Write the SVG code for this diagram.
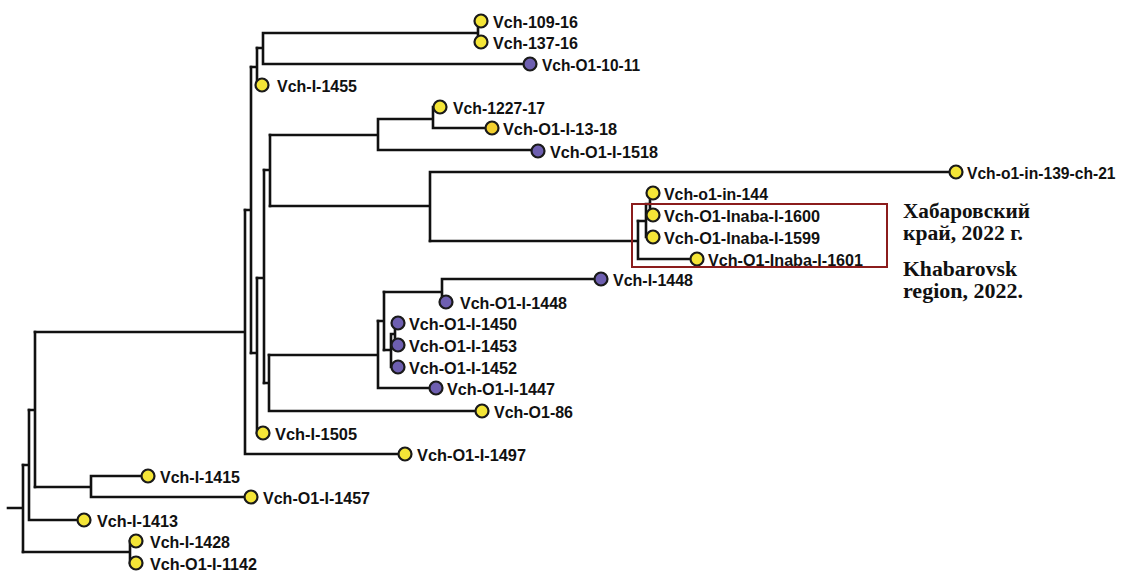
<svg xmlns="http://www.w3.org/2000/svg" width="1123" height="573" viewBox="0 0 1123 573">
<style>
.e{fill:none;stroke:#111;stroke-width:2.6;stroke-linecap:square}
.y{fill:#f4e537;stroke:#1a1a1a;stroke-width:2.2}
.p{fill:#6e5fb0;stroke:#1a1a1a;stroke-width:2.2}
.t{font-family:"Liberation Sans",Arial,sans-serif;font-weight:bold;font-size:17px;fill:#111}
.a{font-family:"Liberation Serif","Times New Roman",serif;font-weight:bold;font-size:20px;fill:#111}
</style>
<rect width="1123" height="573" fill="#fff"/>
<g id="connectors">
<path class="e" d="M8,508H23M23,465V552"/>
<path class="e" d="M23,465H29M29,410V520M29,520H84"/>
<path class="e" d="M23,552H130M130,541V563"/>
<path class="e" d="M29,410H35M35,332V487"/>
<path class="e" d="M35,487H91M91,476V497M91,476H148M91,497H251"/>
<path class="e" d="M35,332H245M245,210V454M245,454H405"/>
<path class="e" d="M245,210H251M251,67V353"/>
<path class="e" d="M251,67H257M257,48V85"/>
<path class="e" d="M257,48H263M263,33V64M263,33H478M478,21V42M263,64H530"/>
<path class="e" d="M251,353H257M257,278V433"/>
<path class="e" d="M257,278H264M264,170V383"/>
<path class="e" d="M264,170H270M270,135V206"/>
<path class="e" d="M270,135H378M378,119V150M378,119H433M433,107V128M433,128H492M378,150H538"/>
<path class="e" d="M270,206H430M430,172V241M430,172H956"/>
<path class="e" d="M430,241H638M638,221V259M638,259H697"/>
<path class="e" d="M638,221H646M646,204V237M646,204H650M650,193V215"/>
<path class="e" d="M264,383H269M269,355V411M269,411H482"/>
<path class="e" d="M269,355H378M378,321V388M378,388H436"/>
<path class="e" d="M378,321H384M384,292V350"/>
<path class="e" d="M384,292H442M442,279V302M442,279H601"/>
<path class="e" d="M384,350H391M391,334V367M391,334H395M395,323V346"/>
</g>
<g id="n-vch-109-16"><circle class="y" cx="481" cy="21" r="6.5"/><text class="t" x="493" y="27.5" textLength="85" lengthAdjust="spacingAndGlyphs">Vch-109-16</text></g>
<g id="n-vch-137-16"><circle class="y" cx="481" cy="42" r="6.5"/><text class="t" x="493" y="48.5" textLength="85" lengthAdjust="spacingAndGlyphs">Vch-137-16</text></g>
<g id="n-vch-o1-10-11"><circle class="p" cx="530" cy="64" r="6.5"/><text class="t" x="542" y="70.5" textLength="98" lengthAdjust="spacingAndGlyphs">Vch-O1-10-11</text></g>
<g id="n-vch-i-1455"><circle class="y" cx="262" cy="85" r="6.5"/><text class="t" x="277" y="91.5" textLength="80" lengthAdjust="spacingAndGlyphs">Vch-I-1455</text></g>
<g id="n-vch-1227-17"><circle class="y" cx="440" cy="107" r="6.5"/><text class="t" x="453" y="113.5" textLength="92" lengthAdjust="spacingAndGlyphs">Vch-1227-17</text></g>
<g id="n-vch-o1-i-13-18"><circle class="y" cx="492" cy="128" r="6.5" style="fill:#f2cf2e"/><text class="t" x="503" y="134.5" textLength="114" lengthAdjust="spacingAndGlyphs">Vch-O1-I-13-18</text></g>
<g id="n-vch-o1-i-1518"><circle class="p" cx="538" cy="151" r="6.5"/><text class="t" x="550" y="157.5" textLength="108" lengthAdjust="spacingAndGlyphs">Vch-O1-I-1518</text></g>
<g id="n-vch-o1-in-139-ch-21"><circle class="y" cx="956" cy="172" r="6.5"/><text class="t" transform="translate(967,178.5) scale(0.92,1)" x="0" y="0">Vch-o1-in-139-ch-21</text></g>
<g id="n-vch-o1-in-144"><circle class="y" cx="653" cy="193" r="6.5"/><text class="t" x="664" y="199.5" textLength="104" lengthAdjust="spacingAndGlyphs">Vch-o1-in-144</text></g>
<g id="n-vch-o1-inaba-i-1600"><circle class="y" cx="653" cy="215" r="6.5"/><text class="t" x="664" y="221.5" textLength="156" lengthAdjust="spacingAndGlyphs">Vch-O1-Inaba-I-1600</text></g>
<g id="n-vch-o1-inaba-i-1599"><circle class="y" cx="653" cy="237" r="6.5"/><text class="t" x="664" y="243.5" textLength="156" lengthAdjust="spacingAndGlyphs">Vch-O1-Inaba-I-1599</text></g>
<g id="n-vch-o1-inaba-i-1601"><circle class="y" cx="697" cy="259" r="6.5"/><text class="t" x="708" y="265.5" textLength="155" lengthAdjust="spacingAndGlyphs">Vch-O1-Inaba-I-1601</text></g>
<g id="n-vch-i-1448"><circle class="p" cx="601" cy="279" r="6.5"/><text class="t" x="613" y="285.5" textLength="80" lengthAdjust="spacingAndGlyphs">Vch-I-1448</text></g>
<g id="n-vch-o1-i-1448"><circle class="p" cx="446" cy="302" r="6.5"/><text class="t" x="460" y="308.5" textLength="107" lengthAdjust="spacingAndGlyphs">Vch-O1-I-1448</text></g>
<g id="n-vch-o1-i-1450"><circle class="p" cx="398" cy="323" r="6.5"/><text class="t" x="409" y="329.5" textLength="108" lengthAdjust="spacingAndGlyphs">Vch-O1-I-1450</text></g>
<g id="n-vch-o1-i-1453"><circle class="p" cx="398" cy="345" r="6.5"/><text class="t" x="409" y="351.5" textLength="108" lengthAdjust="spacingAndGlyphs">Vch-O1-I-1453</text></g>
<g id="n-vch-o1-i-1452"><circle class="p" cx="398" cy="367" r="6.5"/><text class="t" x="409" y="373.5" textLength="108" lengthAdjust="spacingAndGlyphs">Vch-O1-I-1452</text></g>
<g id="n-vch-o1-i-1447"><circle class="p" cx="436" cy="388" r="6.5"/><text class="t" x="447" y="394.5" textLength="108" lengthAdjust="spacingAndGlyphs">Vch-O1-I-1447</text></g>
<g id="n-vch-o1-86"><circle class="y" cx="482" cy="411" r="6.5"/><text class="t" x="494" y="417.5" textLength="79" lengthAdjust="spacingAndGlyphs">Vch-O1-86</text></g>
<g id="n-vch-i-1505"><circle class="y" cx="263" cy="433" r="6.5"/><text class="t" x="275" y="439.5" textLength="82" lengthAdjust="spacingAndGlyphs">Vch-I-1505</text></g>
<g id="n-vch-o1-i-1497"><circle class="y" cx="405" cy="454" r="6.5"/><text class="t" x="417" y="460.5" textLength="109" lengthAdjust="spacingAndGlyphs">Vch-O1-I-1497</text></g>
<g id="n-vch-i-1415"><circle class="y" cx="148" cy="476" r="6.5"/><text class="t" x="160" y="482.5" textLength="80" lengthAdjust="spacingAndGlyphs">Vch-I-1415</text></g>
<g id="n-vch-o1-i-1457"><circle class="y" cx="251" cy="497" r="6.5"/><text class="t" x="263" y="503.5" textLength="107" lengthAdjust="spacingAndGlyphs">Vch-O1-I-1457</text></g>
<g id="n-vch-i-1413"><circle class="y" cx="84" cy="520" r="6.5"/><text class="t" x="97" y="526.5" textLength="81" lengthAdjust="spacingAndGlyphs">Vch-I-1413</text></g>
<g id="n-vch-i-1428"><circle class="y" cx="136" cy="541" r="6.5"/><text class="t" x="150" y="547.5" textLength="80" lengthAdjust="spacingAndGlyphs">Vch-I-1428</text></g>
<g id="n-vch-o1-i-1142"><circle class="y" cx="136" cy="563" r="6.5"/><text class="t" x="150" y="569.5" textLength="107" lengthAdjust="spacingAndGlyphs">Vch-O1-I-1142</text></g>
<g id="khabarovsk-box">
<rect x="632" y="204" width="255" height="63" fill="none" stroke="#8b1c1c" stroke-width="2"/>
<text class="a" x="903" y="218" textLength="127" lengthAdjust="spacingAndGlyphs">Хабаровский</text>
<text class="a" x="903" y="240" textLength="120" lengthAdjust="spacingAndGlyphs">край, 2022 г.</text>
<text class="a" x="903" y="276" textLength="114" lengthAdjust="spacingAndGlyphs">Khabarovsk</text>
<text class="a" x="903" y="298" textLength="120" lengthAdjust="spacingAndGlyphs">region, 2022.</text>
</g>
</svg>
